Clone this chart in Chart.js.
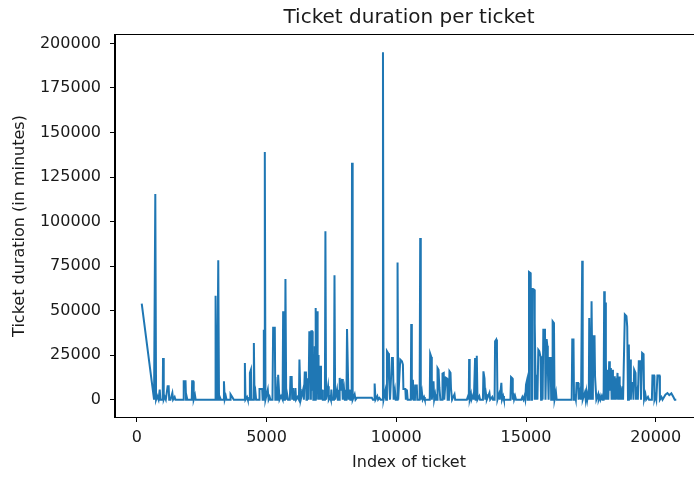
<!DOCTYPE html>
<html>
<head>
<meta charset="utf-8">
<script src="https://cdn.jsdelivr.net/npm/chart.js@4.4.1/dist/chart.umd.min.js"></script>
<style>
  html, body { margin: 0; padding: 0; background: #fff; overflow: hidden; }
  #wrap { width: 694px; height: 477px; overflow: hidden; }
</style>
</head>
<body>
<div id="wrap"><canvas id="chart" width="720" height="477"></canvas></div>
<script>
// ticket index / duration (minutes)
const ticketIndex = [
  192, 667, 715, 745, 790, 840, 885, 910, 1000, 1013, 1040, 1080, 1120, 1190, 1230, 1250, 1300, 1372, 1400, 1460, 1490,
  1790, 1810, 1880, 1900, 1920, 1950, 2120, 2135, 2175, 2195, 2244, 2270, 3020, 3038, 3060, 3100, 3141, 3170, 3200, 3240,
  3340, 3360, 3390, 3430, 3460, 3600, 3615, 3680, 3740, 4150, 4167, 4190, 4250, 4280, 4345, 4360, 4400, 4420, 4500, 4513,
  4540, 4577, 4600, 4715, 4730, 4833, 4850, 4880, 4897, 4915, 4935, 4960, 5050, 5080, 5120, 5150, 5230, 5256, 5320, 5340,
  5346, 5380, 5430, 5449, 5480, 5500, 5560, 5620, 5641, 5670, 5710, 5730, 5760, 5795, 5830, 5900, 5923, 5970, 5990, 6026,
  6060, 6100, 6115, 6140, 6200, 6250, 6269, 6300, 6320, 6410, 6440, 6474, 6520, 6540,
  6560, 6580, 6600, 6620, 6650, 6670, 6690, 6710, 6730, 6756, 6770, 6790, 6805, 6820, 6840, 6860, 6875, 6885, 6905, 6925,
  6950, 6970, 6990, 7000, 7013, 7040, 7060, 7077, 7100, 7140, 7170, 7250, 7270, 7295, 7372, 7400, 7450, 7480, 7500, 7530,
  7600, 7620, 7645, 7718, 7750, 7800, 7820, 7850, 7910, 7940, 7990, 8020, 8080, 8103, 8140, 8160, 8200, 8230, 8280, 8295,
  8320, 8397, 8430, 8480, 9060, 9100, 9150, 9167, 9200, 9270, 9300, 9350, 9400, 9475, 9488, 9510, 9580, 9610, 9641, 9690,
  9720, 9760, 9833, 9870, 9900, 9950, 9980, 10040, 10050, 10075, 10154, 10218, 10256, 10275, 10350, 10370, 10410, 10440,
  10560, 10577, 10600, 10641, 10670, 10720, 10731, 10790, 10810, 10900, 10923, 10945, 10990, 11020, 11070, 11100, 11290,
  11308, 11350, 11370, 11436, 11460, 11500, 11530, 11575, 11590, 11630, 11660, 11700, 11770, 11782, 11830, 11850, 11910,
  11960, 11980, 12030, 12050, 12090, 12110, 12150, 12244, 12270, 12650, 12720, 12782, 12795, 12808, 12830, 12880, 12900,
  12960, 12990, 13038, 13060, 13085, 13103, 13130, 13200, 13230, 13340, 13359, 13400, 13430, 13460, 13490, 13590, 13620,
  13700, 13730, 13790, 13808, 13850, 13880, 13900, 13960, 13990, 14050, 14075, 14120, 14150, 14400, 14423, 14470, 14490,
  14512, 14540, 14580, 14615, 14640, 14820, 14860, 14900, 14940, 14970, 15000, 15040, 15060, 15100, 15115, 15180, 15200,
  15230, 15308, 15325, 15346, 15380, 15410, 15440, 15474, 15512, 15560, 15580, 15603, 15640, 15667, 15731, 15750, 15795,
  15820, 15840, 15870, 15897, 15950, 15970, 16010, 16026, 16077, 16100, 16154, 16180, 16250, 16700, 16760, 16782, 16830,
  16850, 16880, 16920, 16949, 17010, 17030, 17080, 17120, 17150, 17165, 17185, 17270, 17300, 17330, 17360, 17390, 17420,
  17436, 17470, 17500, 17526, 17550, 17575, 17590, 17640, 17660, 17692, 17710, 17782, 17800, 17846, 17870, 17920, 17950,
  17990, 18013, 18035, 18064, 18077, 18100, 18140, 18170, 18205, 18230, 18270, 18300, 18330, 18350, 18397, 18420, 18450,
  18470, 18526, 18550, 18590, 18610, 18650, 18680, 18718, 18740, 18808, 18870, 18900, 18930, 18962, 18990, 19010, 19040,
  19064, 19120, 19140, 19167, 19220, 19240, 19280, 19310, 19346, 19410, 19430, 19474, 19530, 19550, 19600, 19630, 19700,
  19740, 19850, 19872, 19936, 19950, 19990, 20020, 20064, 20140, 20160, 20220, 20260, 20372, 20449, 20520, 20600, 20680,
  20731, 20790
];
const durationMin = [
  53900, 0, 115500, 0, 2000, 0, 5600, 0, 0, 23400, 0, 1500, 0, 7500, 7500, 0, 0, 3700, 0, 1500, 0,
  0, 10300, 10300, 0, 2000, 0, 0, 10300, 10300, 0, 2500, 0, 0, 58400, 0, 0, 78300, 0, 1500, 0,
  0, 10300, 0, 2000, 0, 0, 3000, 1500, 0, 0, 20600, 0, 1500, 0, 0, 15000, 16800, 0, 0, 31800,
  0, 3600, 0, 0, 6000, 6000, 0, 0, 39300, 0, 139000, 0, 5600, 0, 1500, 0, 0, 40300, 40300, 0,
  12700, 0, 0, 14000, 14000, 0, 2000, 0, 49600, 0, 0, 67800, 0, 3000, 0, 0, 12700, 12700, 0, 6500,
  0, 0, 6500, 0, 1500, 0, 22500, 6000, 0, 5600, 0, 15300, 15300, 0,
  8000, 0, 12000, 0, 38400, 10000, 38400, 0, 38400, 38400, 5000, 28000, 0, 22500, 0, 30000, 0, 51500, 15000, 0,
  49600, 10000, 25000, 0, 18700, 8000, 0, 19000, 0, 5600, 0, 0, 94500, 0, 7500, 0, 1500, 0, 5600, 0,
  0, 69800, 0, 5600, 0, 0, 12200, 5000, 11600, 0, 5600, 0, 0, 39700, 39700, 0, 5600, 0, 0, 133000,
  0, 3000, 0, 1000, 1000, 0, 0, 9000, 0, 2000, 0, 1000, 0, 0, 195000, 0, 5000, 0, 27200, 26000,
  12000, 0, 23400, 23400, 0, 5000, 0, 0, 77000, 0, 22500, 21500, 19700, 6000, 6000, 0, 5600, 0,
  0, 42500, 0, 11200, 0, 0, 8000, 8000, 0, 0, 90800, 0, 4000, 0, 1500, 0, 0,
  25800, 24000, 0, 10300, 0, 3000, 0, 0, 17800, 16800, 7000, 0, 0, 14600, 15000, 0, 12300,
  11800, 0, 0, 15900, 15000, 6000, 0, 3000, 0, 0, 0, 2600, 0, 22800, 0, 3000, 0,
  2500, 0, 23400, 0, 0, 24700, 0, 2000, 0, 0, 15900, 12000, 0, 3000, 0, 3800, 0,
  1500, 0, 0, 32800, 33700, 28000, 0, 3000, 0, 9500, 0, 2000, 0, 0, 12700, 12000, 0,
  3800, 0, 2000, 0, 0, 0, 1500, 0, 2000, 0, 8400, 11000, 0, 0, 71700, 71000, 0,
  62400, 61800, 0, 43000, 0, 14000, 0, 28000, 27200, 24000, 0, 24300, 0, 39300, 39300, 0, 34000,
  30300, 18700, 0, 23400, 23400, 0, 0, 44000, 43000, 0, 4000, 0, 0, 0, 0, 33700, 33700,
  0, 3000, 0, 9400, 9400, 0, 4000, 0, 0, 78000, 0, 4000, 0, 4000, 0, 3000, 0,
  45900, 10000, 0, 55200, 20000, 0, 35600, 35600, 13000, 13000, 0, 3000, 0, 2000, 0, 2000, 0,
  0, 60800, 0, 54500, 22500, 0, 16800, 0, 21500, 5000, 17800, 0, 16800, 0, 13100, 0, 12000,
  0, 15000, 0, 13000, 0, 4000, 0, 7500, 0, 47800, 46800, 41000, 0, 30900, 0, 22500, 0,
  9400, 9400, 0, 16800, 15000, 0, 4000, 0, 21500, 21500, 0, 26200, 25500, 0, 3000, 0, 1500,
  0, 0, 13500, 13500, 0, 2000, 0, 13500, 13500, 0, 1500, 0, 2800, 3700, 2500, 3500, 1500,
  0, 0
];
const xTicks = [0, 5000, 10000, 15000, 20000];
const yTicks = [0, 25000, 50000, 75000, 100000, 125000, 150000, 175000, 200000];

const points = ticketIndex.map((x, i) => ({ x: x, y: durationMin[i] }));

const textColor = '#1a1a1a';
const fontFamily = "'DejaVu Sans', sans-serif";

// matplotlib style box + title over the axes
const frame = {
  id: 'frame',
  afterDraw(chart) {
    const ctx = chart.ctx;
    const a = chart.chartArea;
    ctx.save();
    ctx.strokeStyle = '#000';
    ctx.lineWidth = 1;
    ctx.strokeRect(Math.round(a.left) - 0.5, Math.round(a.top) - 0.5, Math.round(a.right - a.left) + 1, Math.round(a.bottom - a.top) + 1);
    ctx.fillStyle = textColor;
    ctx.font = "20px " + fontFamily;
    ctx.textAlign = 'center';
    ctx.textBaseline = 'middle';
    ctx.fillText('Ticket duration per ticket', (a.left + a.right) / 2, 18);
    ctx.restore();
  }
};

new Chart(document.getElementById('chart'), {
  type: 'line',
  data: {
    datasets: [{
      data: points,
      borderColor: '#1f77b4',
      borderWidth: 2,
      pointRadius: 0,
      tension: 0,
      fill: false
    }]
  },
  options: {
    responsive: false,
    animation: false,
    devicePixelRatio: 1,
    layout: { padding: { top: 35, right: 17, bottom: 0, left: 0 } },
    plugins: { legend: { display: false }, tooltip: { enabled: false } },
    scales: {
      x: {
        type: 'linear',
        min: -838,
        max: 21820,
        afterBuildTicks: (s) => { s.ticks = xTicks.map(v => ({ value: v })); },
        afterFit: (s) => { s.height = 60; },
        grid: { drawOnChartArea: false, drawTicks: true, tickLength: 5, tickColor: '#000' },
        border: { display: true, color: '#000' },
        ticks: { color: textColor, font: { family: fontFamily, size: 16 }, padding: 6, maxRotation: 0, autoSkip: false, callback: (v) => String(v) },
        title: { display: true, text: 'Index of ticket', color: textColor, font: { family: fontFamily, size: 16 }, padding: { top: 0, bottom: 5 } }
      },
      y: {
        type: 'linear',
        min: -9750,
        max: 204750,
        afterBuildTicks: (s) => { s.ticks = yTicks.map(v => ({ value: v })); },
        afterFit: (s) => { s.width = 115; },
        grid: { drawOnChartArea: false, drawTicks: true, tickLength: 5, tickColor: '#000' },
        border: { display: true, color: '#000' },
        ticks: { color: textColor, font: { family: fontFamily, size: 16 }, padding: 9, autoSkip: false, callback: (v) => String(v) },
        title: { display: true, text: 'Ticket duration (in minutes)', color: textColor, font: { family: fontFamily, size: 16 }, padding: { top: 10, bottom: 0 } }
      }
    }
  },
  plugins: [frame]
});
</script>
</body>
</html>
